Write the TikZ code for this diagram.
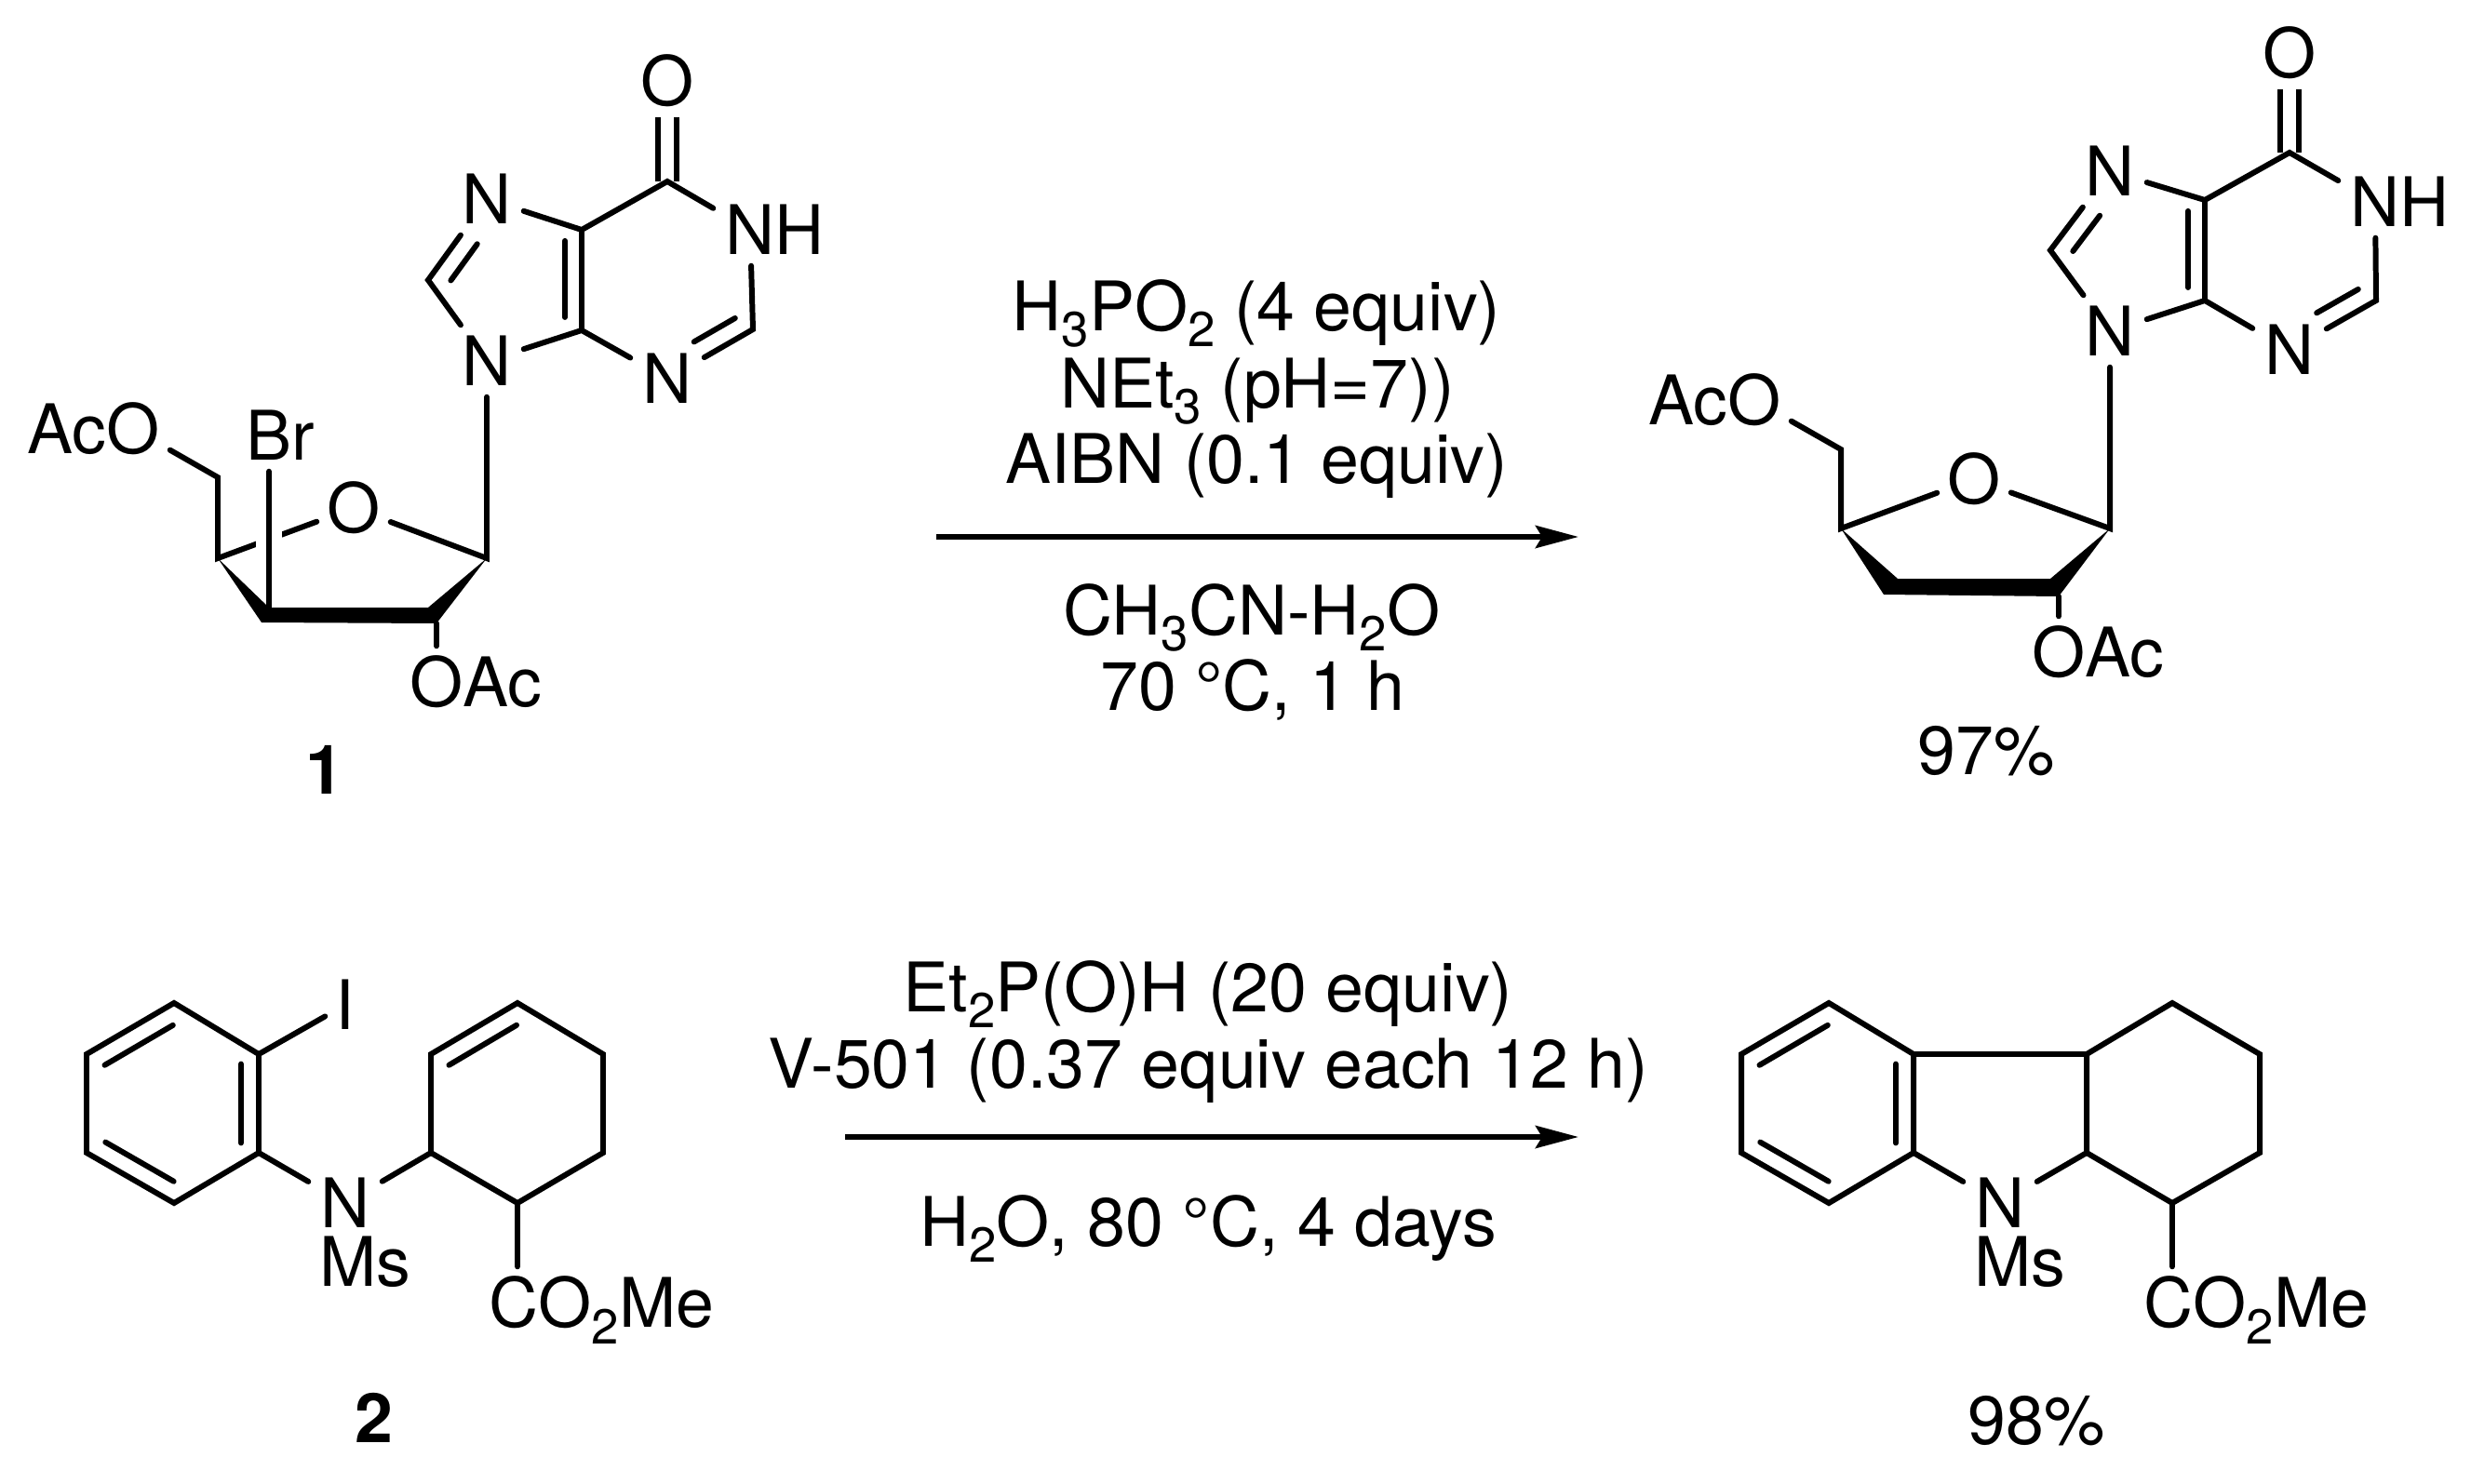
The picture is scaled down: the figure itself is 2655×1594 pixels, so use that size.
\documentclass[tikz,border=0pt]{standalone}
\usepackage{fontspec}
\setmainfont{TeX Gyre Heros}
\usetikzlibrary{arrows.meta}
\usetikzlibrary{calc}
\tikzset{atom/.style = {rectangle, inner sep = 0, minimum width = 0.78cm, minimum height = 0.76cm}}
\tikzset{sublabel/.style = {rectangle, inner sep = 0}}
\tikzset{txt/.style = {anchor = base, inner sep = 0}}
\tikzset{bond/.style = {line width = 1.7pt, line cap = round}}
\tikzset{dblbond/.style = {line width = 1.7pt, double, double distance = 0.14cm}}
\tikzset{halo/.style = {white, line width = 8pt}}
\tikzset{rxn/.style = {line width = 1.7pt, -{Stealth[length = 0.46cm, width = 0.24cm, inset = 0.07cm]}}}
\newcommand{\dn}[1]{\raisebox{-0.24em}{\fontsize{15}{15}\selectfont #1}}
\newcommand{\innerbond}[5]{\draw [bond] ($(#1)!#3!(#2)!#5!90:(#2)$) -- ($(#1)!#4!(#2)!#5!90:(#2)$);}
\begin{document}
\begin{tikzpicture}[x = 0.01cm, y = -0.01cm, every node/.style = {font = \fontsize{20.9}{24}\selectfont}]
    \useasboundingbox (0, 0) rectangle (2655, 1594);

    \node [atom] (ao) at (717, 87) {O};
    \node [atom] (an7) at (523, 214) {N};
    \node [atom] (an1) at (806, 247) {N\rlap{H}};
    \node [atom] (an9) at (523, 388) {N};
    \node [atom] (an3) at (717, 407) {N};
    \node [atom] (aoa) at (143, 461) {\llap{Ac}O};
    \node [atom] (abr) at (289, 468) {B\rlap{r}};
    \node [atom] (aor) at (380, 546) {O};
    \node [atom] (aob) at (469, 733) {O\rlap{Ac}};
    \node [txt] (lab1) at (349, 853) {\textbf{1}};
    \coordinate (ac6) at (717, 195);
    \coordinate (ac5) at (625, 247);
    \coordinate (ac4) at (625, 355);
    \coordinate (ac8) at (460, 301);
    \coordinate (ac2) at (809, 354);
    \coordinate (acl) at (523, 600);
    \coordinate (acr) at (234, 600);
    \coordinate (acm) at (234, 513);
    \coordinate (aw1) at (289, 653);
    \coordinate (aw2) at (460, 653);
    \coordinate (aw3) at (469, 670);
    \coordinate (aw4) at (281, 669);
    \coordinate (abb) at (289, 657);
    \coordinate (ahb) at (289, 640);
    \draw [dblbond] (ao) -- (ac6);
    \draw [bond] (an7) -- (ac5) -- (ac6) -- (an1) -- (ac2) -- (an3) -- (ac4) -- (an9) -- (ac8) -- (an7);
    \draw [bond] (ac5) -- (ac4);
    \innerbond{ac5}{ac4}{0.11}{0.87}{-0.18cm}
    \innerbond{ac8}{an7}{0.13}{0.58}{-0.2cm}
    \innerbond{ac2}{an3}{0.10}{0.58}{-0.2cm}
    \draw [bond] (an9) -- (acl) -- (aor) -- (acr) -- (acm) -- (aoa);
    \draw [halo] (abr) -- (ahb);
    \draw [bond] (abr) -- (abb);
    \fill (acr) -- (aw1) -- (aw2) -- (acl) -- (aw3) -- (aw4) -- cycle;
    \draw [bond] (aw3) -- (aob);

    \node [txt] (r1a) at (1350, 355) {H\dn{3}PO\dn{2} (4 equiv)};
    \node [txt] (r1b) at (1351, 438) {NEt\dn{3} (pH=7))};
    \node [txt] (r1c) at (1350, 519) {AIBN (0.1 equiv)};
    \node [txt] (r1d) at (1345, 682) {CH\dn{3}CN-H\dn{2}O};
    \node [txt] (r1e) at (1346, 763) {70 °C, 1 h};
    \coordinate (r1s) at (1012, 577);
    \coordinate (r1t) at (1702, 577);
    \draw [rxn] ([xshift = -0.06cm] r1s) -- ([xshift = -0.06cm] r1t);

    \node [atom] (bo) at (2460, 57) {O};
    \node [atom] (bn7) at (2267, 184) {N};
    \node [atom] (bn1) at (2552, 217) {N\rlap{H}};
    \node [atom] (bn9) at (2267, 356) {N};
    \node [atom] (bn3) at (2460, 376) {N};
    \node [atom] (boa) at (1885, 430) {\llap{Ac}O};
    \node [atom] (bor) at (2121, 515) {O};
    \node [atom] (bob) at (2212, 701) {O\rlap{Ac}};
    \node [txt] (yld1) at (2134, 832) {97\%};
    \coordinate (bc6) at (2460, 164);
    \coordinate (bc5) at (2369, 215);
    \coordinate (bc4) at (2369, 323);
    \coordinate (bc8) at (2203, 269);
    \coordinate (bc2) at (2553, 323);
    \coordinate (bcl) at (2267, 568);
    \coordinate (bcr) at (1978, 568);
    \coordinate (bcm) at (1978, 483);
    \coordinate (bw1) at (2039, 622);
    \coordinate (bw2) at (2203, 622);
    \coordinate (bw3) at (2212, 641);
    \coordinate (bw4) at (2024, 639);
    \draw [dblbond] (bo) -- (bc6);
    \draw [bond] (bn7) -- (bc5) -- (bc6) -- (bn1) -- (bc2) -- (bn3) -- (bc4) -- (bn9) -- (bc8) -- (bn7);
    \draw [bond] (bc5) -- (bc4);
    \innerbond{bc5}{bc4}{0.11}{0.87}{-0.18cm}
    \innerbond{bc8}{bn7}{0.13}{0.58}{-0.2cm}
    \innerbond{bc2}{bn3}{0.10}{0.58}{-0.2cm}
    \draw [bond] (bn9) -- (bcl) -- (bor) -- (bcr) -- (bcm) -- (boa);
    \fill (bcr) -- (bw1) -- (bw2) -- (bcl) -- (bw3) -- (bw4) -- cycle;
    \draw [bond] (bw3) -- (bob);

    \node [atom, minimum width = 0.42cm] (ci) at (371, 1080) {I};
    \node [atom] (cn) at (371, 1293) {N};
    \node [sublabel] (cms) at (374, 1356) {M\rlap{s}};
    \node [atom] (cco) at (556, 1400) {\kern-0.08cm C\rlap{\smash{O\dn{2}Me}}};
    \node [txt] (lab2) at (402, 1550) {\textbf{2}};
    \coordinate (ca1) at (187, 1078);
    \coordinate (ca2) at (278, 1133);
    \coordinate (ca3) at (278, 1239);
    \coordinate (ca4) at (187, 1293);
    \coordinate (ca5) at (93, 1239);
    \coordinate (ca6) at (93, 1133);
    \coordinate (cb1) at (463, 1239);
    \coordinate (cb2) at (463, 1133);
    \coordinate (cb3) at (556, 1078);
    \coordinate (cb4) at (648, 1133);
    \coordinate (cb5) at (648, 1239);
    \coordinate (cb6) at (556, 1293);
    \draw [bond] (ca1) -- (ca2) -- (ca3) -- (ca4) -- (ca5) -- (ca6) -- cycle;
    \innerbond{ca6}{ca1}{0.10}{0.88}{-0.2cm}
    \innerbond{ca2}{ca3}{0.10}{0.90}{-0.19cm}
    \innerbond{ca5}{ca4}{0.11}{0.89}{0.2cm}
    \draw [bond] (ca2) -- (ci);
    \draw [bond] (ca3) -- (cn) -- (cb1);
    \draw [bond] (cb1) -- (cb2) -- (cb3) -- (cb4) -- (cb5) -- (cb6) -- cycle;
    \innerbond{cb2}{cb3}{0.10}{0.88}{-0.2cm}
    \draw [bond] (cb6) -- (cco);

    \node [txt] (r2a) at (1298, 1087) {Et\dn{2}P(O)H (20 equiv)};
    \node [txt] (r2b) at (1298, 1169) {V-501 (0.37 equiv each 12 h)};
    \node [txt] (r2c) at (1298, 1339) {H\dn{2}O, 80 °C, 4 days};
    \coordinate (r2s) at (908, 1222);
    \coordinate (r2t) at (1696, 1222);
    \draw [rxn] (r2s) -- (r2t);

    \node [atom] (dn) at (2149, 1293) {N};
    \node [sublabel] (dms) at (2152, 1356) {M\rlap{s}};
    \node [atom] (dco) at (2334, 1400) {\kern-0.08cm C\rlap{\smash{O\dn{2}Me}}};
    \node [txt] (yld2) at (2188, 1552) {98\%};
    \coordinate (da1) at (1965, 1078);
    \coordinate (da2) at (2056, 1133);
    \coordinate (da3) at (2056, 1239);
    \coordinate (da4) at (1965, 1293);
    \coordinate (da5) at (1871, 1239);
    \coordinate (da6) at (1871, 1133);
    \coordinate (db1) at (2242, 1239);
    \coordinate (db2) at (2242, 1133);
    \coordinate (db3) at (2334, 1078);
    \coordinate (db4) at (2428, 1133);
    \coordinate (db5) at (2428, 1239);
    \coordinate (db6) at (2334, 1293);
    \draw [bond] (da1) -- (da2) -- (da3) -- (da4) -- (da5) -- (da6) -- cycle;
    \innerbond{da6}{da1}{0.10}{0.88}{-0.2cm}
    \innerbond{da2}{da3}{0.10}{0.90}{-0.19cm}
    \innerbond{da5}{da4}{0.11}{0.89}{0.2cm}
    \draw [bond] (da2) -- (db2);
    \draw [bond] (da3) -- (dn) -- (db1);
    \draw [bond] (db1) -- (db2) -- (db3) -- (db4) -- (db5) -- (db6) -- cycle;
    \draw [bond] (db6) -- (dco);
\end{tikzpicture}
\end{document}
